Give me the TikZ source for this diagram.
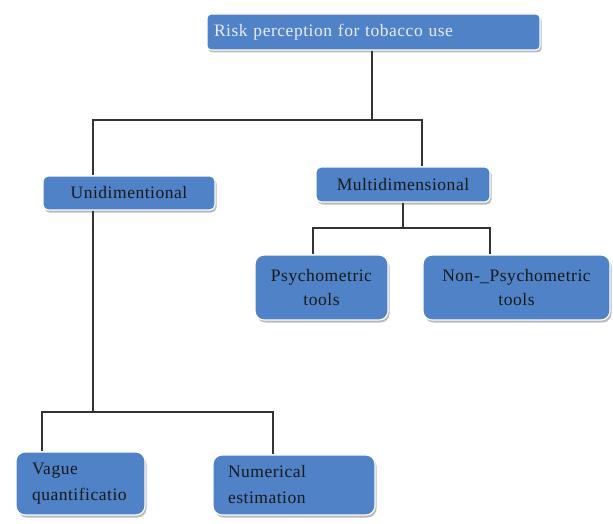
\documentclass[tikz,border=0pt]{standalone}
\usepackage{fontspec}
\setmainfont{Liberation Serif}[LetterSpace=3]
\usetikzlibrary{shadows}
\begin{document}
\begin{tikzpicture}[x=1pt,y=-1pt,
  box/.style={draw=white, line width=1.2pt, fill=boxblue, rounded corners=9pt,
    drop shadow={shadow xshift=1.5pt, shadow yshift=-2.5pt, fill=black!45, opacity=0.6},
    font=\fontsize{17.5}{24}\selectfont, inner sep=0pt, text=black!90},
  conn/.style={draw=black!80, line width=1.3pt}]
\definecolor{boxblue}{HTML}{4F82C6}
\useasboundingbox (0,0) rectangle (613,524);
\node[box, rounded corners=4pt, minimum width=333pt, minimum height=36pt, text width=319pt, align=left, text=white!92!blue] (top) at (373.5,32) {Risk perception for tobacco use};
\node[box, rounded corners=5pt, minimum width=172pt, minimum height=34pt] (uni) at (129,193) {Unidimentional};
\node[box, rounded corners=5pt, minimum width=174pt, minimum height=35pt] (multi) at (403,184.5) {Multidimensional};
\node[box, minimum width=133pt, minimum height=65pt, align=center] (psy) at (321.5,287.5) {Psychometric\\tools};
\node[box, minimum width=187pt, minimum height=65pt, align=center] (npsy) at (516.5,287.5) {Non-\_Psychometric\\tools};
\node[box, minimum width=129pt, minimum height=63pt, text width=97pt, align=left] (vag) at (80.5,483.5) {Vague\\[2pt]quantificatio};
\node[box, minimum width=162pt, minimum height=60pt, text width=132pt, align=left] (num) at (294,485) {Numerical\\[2pt]estimation};
\coordinate (ua) at (93,120);
\coordinate (ma) at (422,120);
\coordinate (pa) at (313,228);
\coordinate (na) at (490,228);
\coordinate (va) at (42,412);
\coordinate (ea) at (273,412);
\draw[conn] (top.south -| 372,0) -- (372,120);
\draw[conn] (uni.north -| ua) |- (ma) -- (multi.north -| ma);
\draw[conn] (multi.south) -- (multi.south |- pa);
\draw[conn] (psy.north -| pa) |- (na) -- (npsy.north -| na);
\draw[conn] (uni.south -| ua) -- (ua |- va);
\draw[conn] (vag.north -| va) |- (ea) -- (num.north -| ea);
\end{tikzpicture}
\end{document}
